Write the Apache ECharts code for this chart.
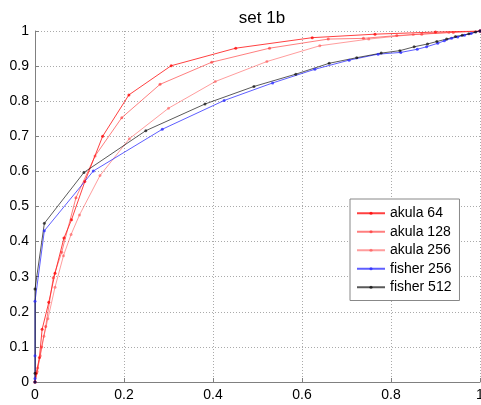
<!DOCTYPE html>
<html>
<head>
<meta charset="utf-8">
<script src="https://cdn.jsdelivr.net/npm/echarts@6/dist/echarts.min.js"></script>
<style>
html, body { margin: 0; padding: 0; background: #fff; }
#main { width: 481px; height: 405px; }
</style>
</head>
<body>
<div id="main"></div>
<script>
// curves, [x, y]
var akula64 = [[0,0],[0.003,0.025],[0.01,0.07],[0.016,0.15],[0.031,0.227],[0.045,0.31],[0.065,0.41],[0.082,0.462],[0.112,0.571],[0.152,0.70],[0.211,0.818],[0.306,0.901],[0.451,0.951],[0.623,0.981],[0.764,0.991],[0.9,0.997],[1,1]];
var akula128 = [[0,0],[0.006,0.04],[0.015,0.1],[0.024,0.158],[0.041,0.297],[0.06,0.37],[0.092,0.525],[0.135,0.644],[0.195,0.753],[0.281,0.848],[0.397,0.911],[0.527,0.951],[0.659,0.977],[0.738,0.979],[0.813,0.987],[0.869,0.991],[0.94,0.996],[1,1]];
var akula256 = [[0,0],[0.005,0.03],[0.012,0.075],[0.02,0.13],[0.029,0.18],[0.045,0.27],[0.064,0.36],[0.081,0.42],[0.10,0.476],[0.146,0.588],[0.212,0.693],[0.30,0.78],[0.405,0.856],[0.521,0.913],[0.64,0.958],[0.75,0.977],[0.85,0.99],[0.93,0.996],[1,1]];
var fisher256 = [[0,0],[0,0.01],[0,0.075],[0,0.23],[0.021,0.431],[0.131,0.601],[0.286,0.72],[0.425,0.802],[0.534,0.852],[0.629,0.891],[0.706,0.917],[0.771,0.934],[0.822,0.939],[0.859,0.948],[0.88,0.955],[0.905,0.965],[0.92,0.972],[0.936,0.979],[0.95,0.983],[0.965,0.988],[0.98,0.993],[1,1]];
var fisher512 = [[0,0],[0,0.025],[0,0.265],[0.021,0.452],[0.11,0.597],[0.249,0.716],[0.382,0.792],[0.492,0.842],[0.586,0.877],[0.661,0.908],[0.723,0.924],[0.778,0.937],[0.82,0.944],[0.852,0.955],[0.882,0.963],[0.903,0.97],[0.925,0.977],[0.945,0.984],[0.96,0.988],[0.975,0.992],[0.99,0.997],[1,1]];

var seriesNames = ['akula 64', 'akula 128', 'akula 256', 'fisher 256', 'fisher 512'];
var seriesData = [akula64, akula128, akula256, fisher256, fisher512];
var seriesColors = ['rgba(255,0,0,0.75)', 'rgba(255,40,40,0.6)', 'rgba(255,60,60,0.5)', 'rgba(40,40,255,0.75)', 'rgba(0,0,0,0.65)'];

var chart = echarts.init(document.getElementById('main'));
var font = 'Liberation Sans, Arial, sans-serif';

var series = [];
for (var i = 0; i < seriesNames.length; i++) {
	series.push({
		name: seriesNames[i],
		type: 'line',
		data: seriesData[i],
		symbol: 'circle',
		symbolSize: 3,
		showSymbol: true,
		animation: false,
		lineStyle: { width: 1, color: seriesColors[i] },
		itemStyle: { color: seriesColors[i] }
	});
}

var option = {
	backgroundColor: '#fff',
	title: {
		text: 'set 1b',
		left: 257, top: 5, textAlign: 'center',
		textStyle: { fontFamily: font, fontSize: 17, fontWeight: 'normal', color: '#000' }
	},
	grid: { left: 35, right: 1, top: 31, bottom: 23, outerBoundsMode: 'none' },
	legend: {
		orient: 'vertical',
		left: 350, top: 199,
		data: seriesNames,
		itemWidth: 28, itemHeight: 4, itemGap: 4,
		padding: [7, 8, 6, 6],
		borderColor: '#888', borderWidth: 1, borderRadius: 0,
		backgroundColor: '#fff',
		textStyle: { fontFamily: font, fontSize: 14, color: '#000', lineHeight: 14.5 }
	},
	xAxis: {
		type: 'value', min: 0, max: 1, interval: 0.2,
		axisLine: { show: true, lineStyle: { color: '#808080' } },
		axisTick: { show: true, inside: true, length: 4, lineStyle: { color: '#808080' } },
		axisLabel: { fontFamily: font, fontSize: 14, color: '#000', margin: 6 },
		splitLine: { show: true, lineStyle: { type: [1, 2], color: '#aaa' } }
	},
	yAxis: {
		type: 'value', min: 0, max: 1, interval: 0.1,
		axisLine: { show: true, lineStyle: { color: '#808080' } },
		axisTick: { show: true, inside: true, length: 4, lineStyle: { color: '#808080' } },
		axisLabel: { fontFamily: font, fontSize: 14, color: '#000', margin: 6 },
		splitLine: { show: true, lineStyle: { type: [1, 2], color: '#aaa' } }
	},
	series: series
};

chart.setOption(option);
</script>
</body>
</html>
